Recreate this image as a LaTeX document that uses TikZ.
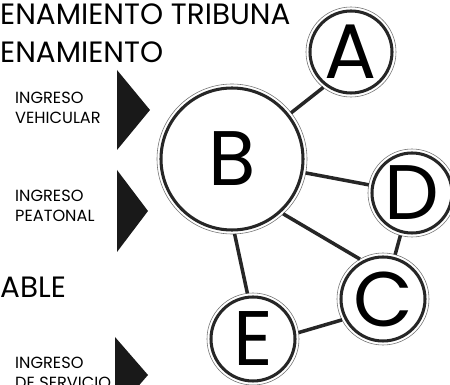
\documentclass[tikz,border=0pt]{standalone}
\usepackage{fontspec}
\setmainfont{Poppins}
\usetikzlibrary{calc}

\begin{document}
\begin{tikzpicture}[
  zone/.style={circle, draw=black!85, line width=2.6pt, outer sep=0.12cm, inner sep=0pt, font=\fontsize{66}{66}\selectfont},
  halo/.style={draw=black!55, line width=0.5pt},
  link/.style={draw=black!85, line width=3pt},
  title/.style={font=\fontsize{25.1}{28}\selectfont, anchor=base west, inner sep=0pt},
  ingreso/.style={font=\fontsize{13.8}{17}\selectfont, align=left, anchor=north west, inner sep=0pt},
  flecha/.style={fill=black!90},
]
\clip (0,0) rectangle (13.5,-11.55);

% --- Titles ---
\node[title] (t1) at (0,-0.75) {ENAMIENTO TRIBUNA};
\node[title] (t2) at (0,-1.89) {ENAMIENTO};
\node[title] (t3) at (0,-8.94) {ABLE};

% --- Entrances ---
\node[ingreso] (iv) at (0.45,-2.76) {INGRESO\\VEHICULAR};
\fill[flecha] (3.51,-2.10) -- (4.50,-3.30) -- (3.51,-4.50) -- cycle;

\node[ingreso] (ip) at (0.45,-5.70) {INGRESO\\PEATONAL};
\fill[flecha] (3.51,-5.10) -- (4.44,-6.33) -- (3.51,-7.56) -- cycle;

\node[ingreso] (is) at (0.45,-10.71) {INGRESO\\DE SERVICIO};
\fill[flecha] (3.45,-10.11) -- (4.44,-11.25) -- (3.45,-12.39) -- cycle;

% --- Zones ---
\node[zone, minimum size=2.46cm] (A) at (10.53,-1.56) {A};
\node[zone, minimum size=4.26cm] (B) at (6.96,-4.77) {B};
\node[zone, minimum size=2.52cm] (C) at (11.49,-8.97) {C};
\node[zone, minimum size=2.40cm] (D) at (12.36,-5.79) {D};
\node[zone, minimum size=2.52cm] (E) at (7.59,-10.17) {E};

\foreach \z in {A,B,C,D,E}
  \draw[halo] let \p1=($(\z.east)-(\z.center)$) in (\z.center) circle[radius=\x1];

% --- Links ---
\draw[link] (B.38) -- (A.232);
\draw[link] (B) -- (D);
\draw[link] (B.-47) -- (C.120);
\draw[link] (D) -- (C);
\draw[link] (B.-88) -- (E.97);
\draw[link] (E.8) -- (C.207);

\end{tikzpicture}
\end{document}
